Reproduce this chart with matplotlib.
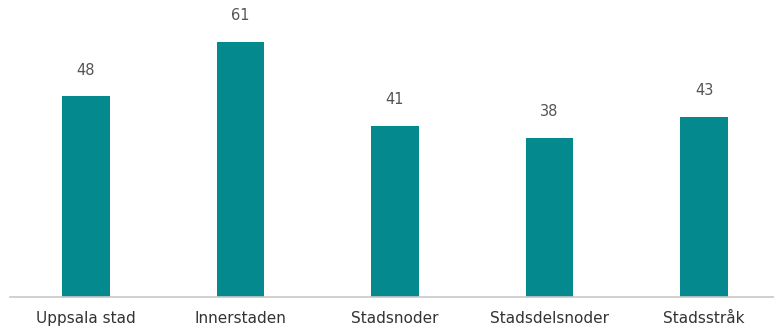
import matplotlib
matplotlib.use("Agg")
import matplotlib.pyplot as plt

categories = ["Uppsala stad", "Innerstaden", "Stadsnoder", "Stadsdelsnoder", "Stadsstråk"]
values = [48, 61, 41, 38, 43]

fig = plt.figure(figsize=(7.74, 3.32), dpi=100)
ax = fig.add_axes([0, 35/332, 1, 297/332])
x = list(range(len(categories)))
ax.bar(x, values, width=0.31, color="#04898e")
ax.set_xlim(-0.557, 4.453)
ax.set_ylim(0, 71.05)
for xi, v in zip(x, values):
    ax.text(xi, v + 4.5, str(v), ha="center", va="bottom", fontsize=10.5,
            color="#555555", family="DejaVu Sans")
for s in ["top", "right", "left"]:
    ax.spines[s].set_visible(False)
ax.spines["bottom"].set_color("#c8c8c8")
ax.spines["bottom"].set_linewidth(1.2)
ax.spines["bottom"].set_bounds(-0.492, 4.453)
ax.set_yticks([])
ax.set_xticks(x)
ax.set_xticklabels(categories, fontsize=11, color="#333333", family="DejaVu Sans")
ax.tick_params(axis="x", length=0, pad=10)
fig.savefig("out.png", dpi=100)
